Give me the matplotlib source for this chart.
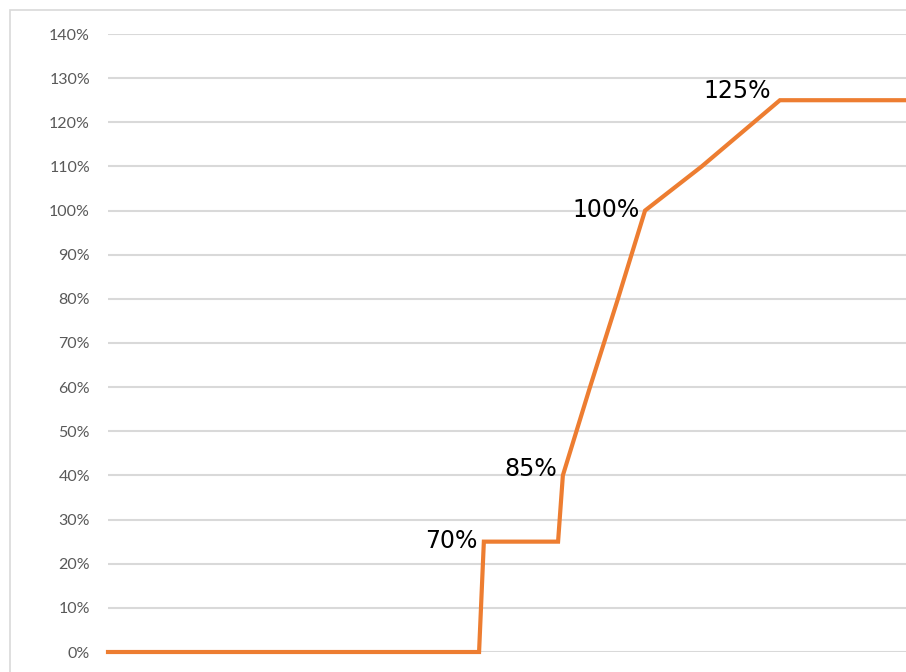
'''Stepped payout curve with labelled thresholds.'''

# ----------------------------------------------------------------------------
# Modules
from matplotlib import pyplot as plt
from matplotlib.patches import Rectangle
from matplotlib.ticker import PercentFormatter, MultipleLocator

# ----------------------------------------------------------------------------
# Data (x in arbitrary units 0-100)
x_vals = [0, 46.5, 47.1, 56.4, 57.0, 60.4, 63.9, 67.3, 74.4, 84.2, 100]
y_vals = [0, 0, 0.25, 0.25, 0.40, 0.60, 0.80, 1.00, 1.10, 1.25, 1.25]

label_x = [47.1, 57.0, 67.3, 84.2]
label_y = [0.25, 0.40, 1.00, 1.25]
label_txt = ['70%', '85%', '100%', '125%']
# offsets in pixels (dx, dy) for the labels
label_off = [(-6, -6), (-6, -1), (-5, -6), (-9, 2)]

# ----------------------------------------------------------------------------


def main():

    W, H = 906, 672
    fig = plt.figure(figsize=(W / 100, H / 100), dpi=100)

    # Chart border (Excel style, cut off on the right/bottom)
    fig.patches.append(Rectangle((10 / W, -0.1), 1.2, 1 - 10 / H + 0.1,
                                 transform=fig.transFigure, fill=False,
                                 edgecolor='#d9d9d9', linewidth=1.2))

    ax = fig.add_axes([108 / W, 20 / H, 798 / W, 618 / H])
    ax.set_xlim(0, 100)
    ax.set_ylim(0, 1.4)

    ax.yaxis.set_major_locator(MultipleLocator(0.1))
    ax.yaxis.set_major_formatter(PercentFormatter(1.0, decimals=0))
    ax.grid(True, axis='y', color='#d9d9d9', linewidth=1.5)
    ax.set_axisbelow(True)
    ax.set_xticks([])
    for s in ax.spines.values():
        s.set_visible(False)
    ax.tick_params(axis='y', length=0, pad=13, labelsize=11.5,
                   labelcolor='#595959')
    for lab in ax.get_yticklabels():
        lab.set_family('Lato')

    ax.plot(x_vals, y_vals, color='#ED7D31', linewidth=3,
            solid_joinstyle='miter', clip_on=False, zorder=3)

    for x, y, t, (dx, dy) in zip(label_x, label_y, label_txt, label_off):
        ax.annotate(t, (x, y), xytext=(dx * 0.72, dy * 0.72),
                    textcoords='offset points', ha='right', va='baseline',
                    fontsize=17, color='black')

    fig.savefig('out.png', dpi=100)

    return None

# ----------------------------------------------------------------------------


if __name__ == "__main__":
    main()
